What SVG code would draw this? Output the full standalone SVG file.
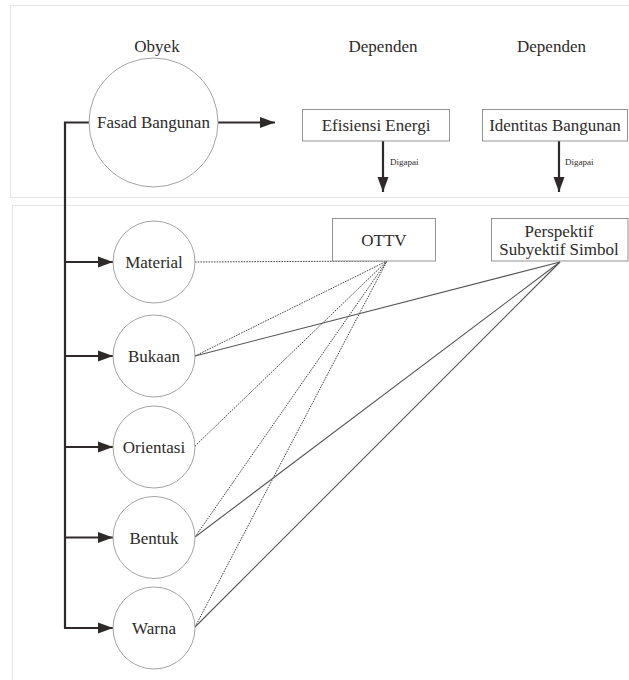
<svg xmlns="http://www.w3.org/2000/svg" width="629" height="680" viewBox="0 0 629 680">
<defs>
<marker id="ah" markerUnits="userSpaceOnUse" markerWidth="16" markerHeight="12" refX="15" refY="6" orient="auto">
<path d="M0,0.5 L15,6 L0,11.5 Z" fill="#2e2a2a"/>
</marker>
</defs>
<style>
.panel{fill:none;stroke:#e6e6e6;stroke-width:1.2}
.t{font-family:"Liberation Serif","Times New Roman",serif;fill:#2e2a2a;text-anchor:middle}
.m{font-size:17px}
.s{font-size:9px;text-anchor:start}
.c{fill:#fff;stroke:#999;stroke-width:0.9}
.b{fill:#fff;stroke:#888;stroke-width:0.9}
.arr{stroke:#2e2a2a;stroke-width:2.2;fill:none}
.dot{stroke:#444;stroke-width:1;stroke-dasharray:1.6,1.1;fill:none}
.sol{stroke:#555;stroke-width:1.1;fill:none}
</style>
<rect width="629" height="680" fill="#fff"/>
<rect class="panel" x="10.5" y="5.5" width="630" height="192"/>
<rect class="panel" x="12.5" y="205.5" width="630" height="480"/>
<g id="headers">
<text class="t m" x="157" y="52">Obyek</text>
<text class="t m" x="383" y="52">Dependen</text>
<text class="t m" x="551.5" y="52">Dependen</text>
</g>
<g id="connectors">
<polyline class="arr" points="89,122.5 65,122.5 65,628"/>
<line class="arr" x1="65" y1="262" x2="113" y2="262" marker-end="url(#ah)"/>
<line class="arr" x1="65" y1="356" x2="113" y2="356" marker-end="url(#ah)"/>
<line class="arr" x1="65" y1="447" x2="113" y2="447" marker-end="url(#ah)"/>
<line class="arr" x1="65" y1="537.5" x2="113" y2="537.5" marker-end="url(#ah)"/>
<line class="arr" x1="64" y1="628" x2="113" y2="628" marker-end="url(#ah)"/>
<line class="arr" x1="218" y1="122.5" x2="275" y2="122.5" marker-end="url(#ah)"/>
<line class="arr" x1="383" y1="141" x2="383" y2="192" marker-end="url(#ah)"/>
<line class="arr" x1="559" y1="141" x2="559" y2="192" marker-end="url(#ah)"/>
<line class="dot" x1="195" y1="262" x2="387" y2="261"/>
<line class="dot" x1="195" y1="356" x2="387" y2="261"/>
<line class="dot" x1="195" y1="446" x2="387" y2="261"/>
<line class="dot" x1="195" y1="537" x2="387" y2="261"/>
<line class="dot" x1="195" y1="627" x2="387" y2="261"/>
<line class="sol" x1="195" y1="356" x2="560" y2="262"/>
<line class="sol" x1="195" y1="537" x2="560" y2="262"/>
<line class="sol" x1="195" y1="627" x2="560" y2="262"/>
</g>
<g id="label-digapai-1"><text class="t s" x="390" y="165">Digapai</text></g>
<g id="label-digapai-2"><text class="t s" x="565" y="165">Digapai</text></g>
<g id="fasad">
<circle class="c" cx="153.5" cy="122.5" r="64.5"/>
<text class="t m" x="153.5" y="128">Fasad Bangunan</text>
</g>
<g id="efisiensi">
<rect class="b" x="302.5" y="109.5" width="147" height="31.5"/>
<text class="t m" x="376" y="131">Efisiensi Energi</text>
</g>
<g id="identitas">
<rect class="b" x="482.5" y="109.5" width="145" height="31.5"/>
<text class="t m" x="555" y="131">Identitas Bangunan</text>
</g>
<g id="ottv">
<rect class="b" x="332.5" y="218.5" width="103" height="42.5"/>
<text class="t m" x="384" y="246">OTTV</text>
</g>
<g id="perspektif">
<rect class="b" x="491.5" y="218.5" width="136.5" height="42.5"/>
<text class="t m" x="559" y="237">Perspektif</text>
<text class="t m" x="559" y="255">Subyektif Simbol</text>
</g>
<g id="material">
<circle class="c" cx="154" cy="262" r="41"/>
<text class="t m" x="154" y="268">Material</text>
</g>
<g id="bukaan">
<circle class="c" cx="154" cy="356" r="41"/>
<text class="t m" x="154" y="362">Bukaan</text>
</g>
<g id="orientasi">
<circle class="c" cx="154" cy="447" r="41"/>
<text class="t m" x="154" y="453">Orientasi</text>
</g>
<g id="bentuk">
<circle class="c" cx="154" cy="537.5" r="41"/>
<text class="t m" x="154" y="543.5">Bentuk</text>
</g>
<g id="warna">
<circle class="c" cx="154" cy="628" r="41"/>
<text class="t m" x="154" y="634">Warna</text>
</g>
</svg>
